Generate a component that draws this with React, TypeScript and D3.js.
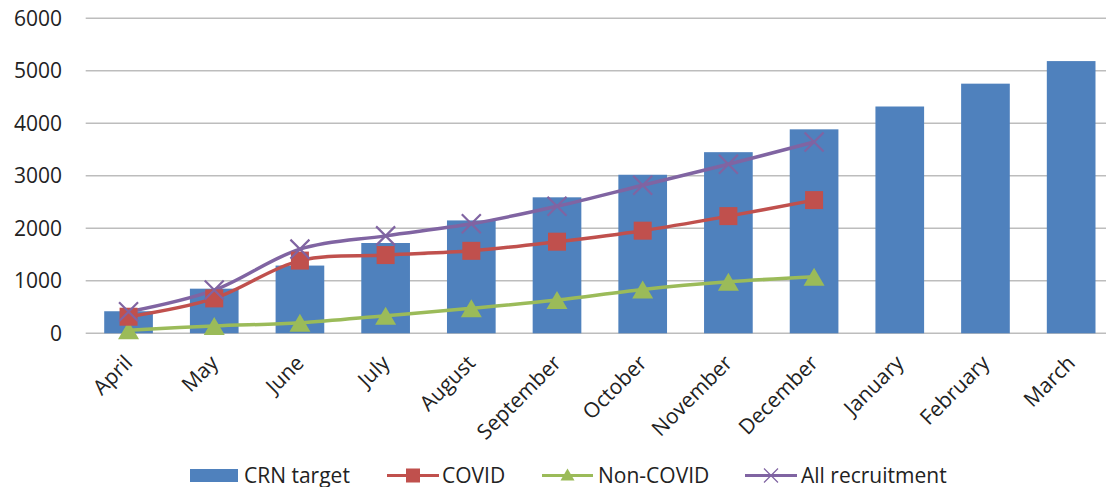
import React from "react";
import * as d3 from "d3";

const months = ["April", "May", "June", "July", "August", "September", "October", "November", "December", "January", "February", "March"];
const crnTarget = [420, 850, 1290, 1720, 2150, 2590, 3020, 3450, 3885, 4320, 4755, 5185];
const covid = [316, 665, 1385, 1490, 1571, 1745, 1955, 2232, 2537];
const nonCovid = [60, 140, 200, 335, 475, 633, 836, 981, 1076];
const allRecruitment = [410, 823, 1603, 1856, 2085, 2420, 2820, 3220, 3645];
const yTicks = [0, 1000, 2000, 3000, 4000, 5000, 6000];

const W = 1106;
const H = 487;
const FONT = "'Open Sans', sans-serif";
const TEXT = "#222222";
const GRID = "#BDBDBD";
const BLUE = "#4F81BD";
const RED = "#C0504D";
const GREEN = "#9BBB59";
const PURPLE = "#8064A2";

export default function App() {
  const x = d3.scaleBand<string>().domain(months).range([85.7, 1114]).paddingInner(0.432).paddingOuter(0.216);
  const y = d3.scaleLinear().domain([0, 6000]).range([333.3, 18.3]);
  const cx = (i: number) => (x(months[i]) as number) + x.bandwidth() / 2;
  const line = d3
    .line<number>()
    .x((_, i) => cx(i))
    .y((d) => y(d))
    .curve(d3.curveCatmullRom.alpha(0.5));

  const square = (px: number, py: number, s: number, color: string, key?: any) => (
    <rect key={key} x={px - s / 2} y={py - s / 2} width={s} height={s} fill={color} />
  );
  const tri = (px: number, py: number, w: number, h: number, color: string, key?: any) => (
    <path key={key} d={`M${px},${py - h / 2}L${px + w / 2},${py + h / 2}L${px - w / 2},${py + h / 2}Z`} fill={color} />
  );
  const cross = (px: number, py: number, r: number, sw: number, color: string, key?: any) => (
    <path
      key={key}
      d={`M${px - r},${py - r}L${px + r},${py + r}M${px - r},${py + r}L${px + r},${py - r}`}
      stroke={color}
      strokeWidth={sw}
      fill="none"
    />
  );

  const legendY = 475.5;
  const legendText = (tx: number, t: string) => (
    <text x={tx} y={482.5} fontFamily={FONT} fontSize={21} fill={TEXT}>
      {t}
    </text>
  );

  return (
    <svg width={W} height={H} style={{ position: "absolute", left: 0, top: 0, background: "#fff" }}>
      {/* gridlines */}
      {yTicks.map((t) => (
        <line key={t} x1={85.7} x2={W} y1={y(t)} y2={y(t)} stroke={GRID} strokeWidth={1.6} />
      ))}
      {yTicks.map((t) => (
        <text key={"l" + t} x={62} y={y(t)} dy="0.36em" textAnchor="end" fontFamily={FONT} fontSize={21} fill={TEXT}>
          {t}
        </text>
      ))}
      {/* bars */}
      {crnTarget.map((v, i) => (
        <rect key={i} x={x(months[i])} y={y(v)} width={x.bandwidth()} height={y(0) - y(v)} fill={BLUE} />
      ))}
      {/* lines */}
      <path d={line(nonCovid) || ""} stroke={GREEN} strokeWidth={3.5} fill="none" />
      <path d={line(covid) || ""} stroke={RED} strokeWidth={3.5} fill="none" />
      <path d={line(allRecruitment) || ""} stroke={PURPLE} strokeWidth={3.5} fill="none" />
      {nonCovid.map((v, i) => tri(cx(i), y(v), 21, 18, GREEN, "t" + i))}
      {covid.map((v, i) => square(cx(i), y(v), 18, RED, "s" + i))}
      {allRecruitment.map((v, i) => cross(cx(i), y(v), 9.5, 2.2, PURPLE, "x" + i))}
      {/* x labels */}
      {months.map((m, i) => (
        <text
          key={m}
          transform={`translate(${cx(i) - 6},${353}) rotate(-45)`}
          dy="0.76em"
          textAnchor="end"
          fontFamily={FONT}
          fontSize={21}
          fill={TEXT}
        >
          {m}
        </text>
      ))}
      {/* legend */}
      <rect x={190} y={469} width={48} height={13} fill={BLUE} />
      {legendText(244, "CRN target")}
      <line x1={387} x2={439} y1={legendY} y2={legendY} stroke={RED} strokeWidth={3} />
      {square(413, legendY, 14, RED)}
      {legendText(442, "COVID")}
      <line x1={542} x2={593} y1={legendY} y2={legendY} stroke={GREEN} strokeWidth={3} />
      {tri(567.5, legendY - 1, 14, 12, GREEN)}
      {legendText(598, "Non-COVID")}
      <line x1={745} x2={797} y1={legendY} y2={legendY} stroke={PURPLE} strokeWidth={3} />
      {cross(771, legendY, 7, 1.2, PURPLE)}
      {legendText(801, "All recruitment")}
    </svg>
  );
}
